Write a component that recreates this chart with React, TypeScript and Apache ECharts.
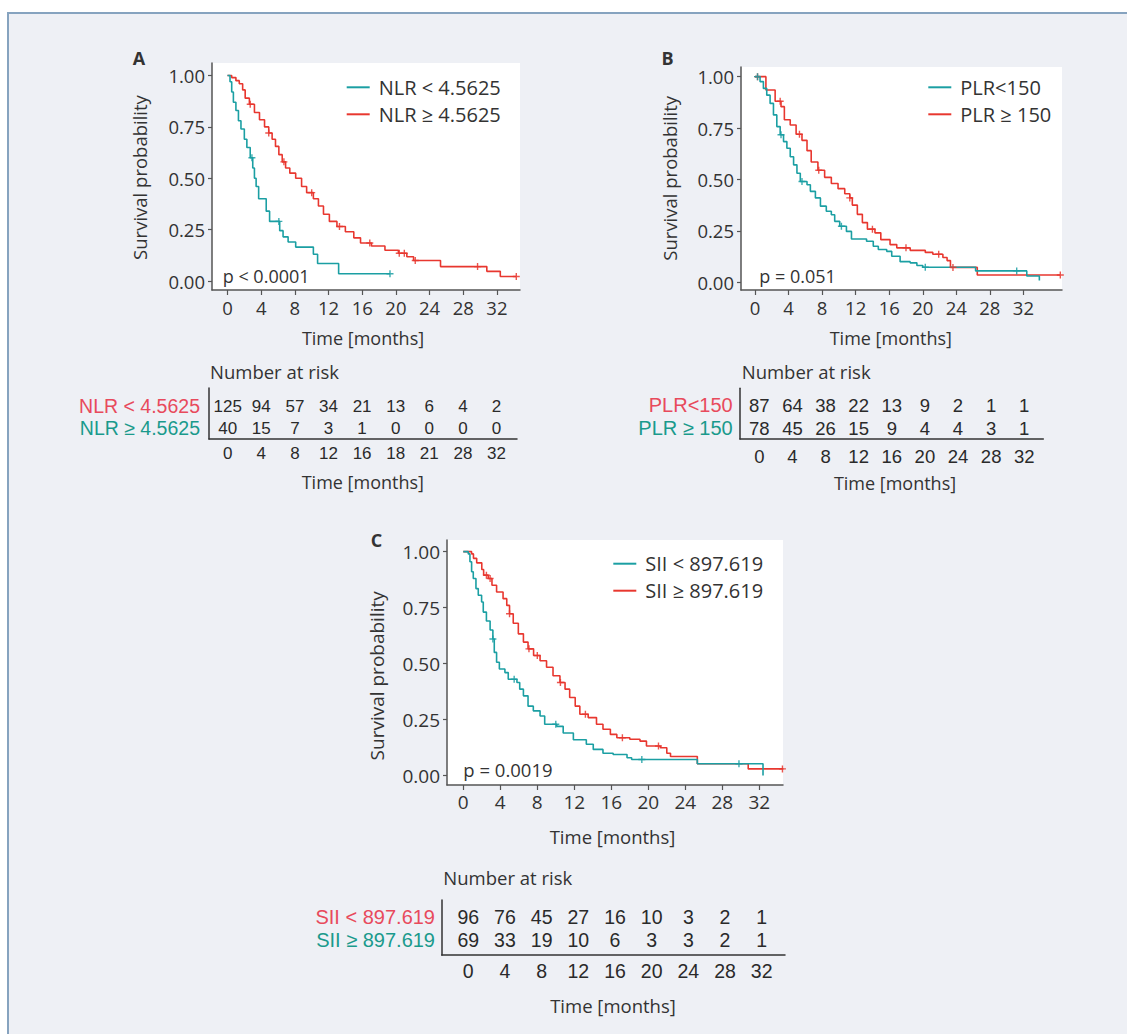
import React, { useEffect, useRef } from "react";
import * as echarts from "echarts";

// ---------- colours & fonts ----------
const TEAL = "#1b9fa3";
const RED = "#e8372f";
const LBL_RED = "#e84a5c";
const LBL_TEAL = "#1a9a8c";
const TXT = "#333333";
const AXIS = "#555555";
const FONT = "'Open Sans', 'Noto Sans', sans-serif";
const NUMFONT = "'Liberation Sans', Arial, sans-serif";

// ---------- Panel A: NLR ----------
const aLowName = "NLR < 4.5625";
const aHighName = "NLR \u2265 4.5625";
const aLowTimes = [0, 0.3, 0.5, 0.7, 1.0, 1.3, 1.6, 2.0, 2.3, 2.7, 3.0, 3.2, 3.4, 3.7, 4.6, 5.0, 6.2, 6.6, 7.2, 8.1, 10.2, 10.7, 13.2, 19.3];
const aLowSurv = [1, 0.97, 0.92, 0.87, 0.83, 0.78, 0.74, 0.69, 0.65, 0.6, 0.55, 0.5, 0.46, 0.4, 0.34, 0.29, 0.245, 0.215, 0.19, 0.165, 0.13, 0.085, 0.035, 0.035];
const aLowCensor = [2.9, 6.1, 19.3];
const aHighTimes = [0, 0.5, 1.0, 1.4, 1.8, 2.1, 2.6, 3.2, 3.8, 4.4, 4.9, 5.3, 5.7, 6.1, 6.5, 6.9, 7.4, 8.1, 8.8, 9.4, 10.2, 10.8, 11.4, 12.1, 13.0, 14.0, 15.0, 15.8, 17.1, 18.7, 20.3, 21.3, 22.1, 25.3, 30.8, 32.4, 34.3];
const aHighSurv = [1, 0.99, 0.975, 0.96, 0.93, 0.89, 0.86, 0.82, 0.785, 0.75, 0.72, 0.69, 0.655, 0.615, 0.58, 0.55, 0.525, 0.5, 0.46, 0.43, 0.4, 0.365, 0.325, 0.29, 0.265, 0.24, 0.21, 0.185, 0.17, 0.15, 0.135, 0.118, 0.1, 0.07, 0.047, 0.022, 0.022];
const aHighCensor = [2.7, 4.9, 6.7, 10.0, 13.3, 16.9, 20.4, 21.0, 22.3, 29.7, 34.3];
const aRowLabel1 = "NLR < 4.5625";
const aRowLabel2 = "NLR \u2265 4.5625";
const aRiskLabels = ["0", "4", "8", "12", "16", "18", "21", "28", "32"];
const aRiskRow1 = [125, 94, 57, 34, 21, 13, 6, 4, 2];
const aRiskRow2 = [40, 15, 7, 3, 1, 0, 0, 0, 0];

// ---------- Panel B: PLR ----------
const bLowName = "PLR<150";
const bHighName = "PLR \u2265 150";
const bLowTimes = [0, 0.6, 1.0, 1.4, 1.8, 2.2, 2.6, 3.0, 3.4, 3.8, 4.2, 4.6, 5.0, 5.4, 6.2, 6.6, 7.2, 7.8, 8.5, 9.1, 9.5, 10.1, 10.9, 11.5, 13.3, 14.1, 14.7, 15.7, 16.3, 17.3, 18.5, 19.3, 20.0, 26.3, 32.4, 33.9];
const bLowSurv = [1, 0.976, 0.943, 0.91, 0.87, 0.814, 0.757, 0.717, 0.684, 0.652, 0.61, 0.571, 0.53, 0.49, 0.474, 0.442, 0.41, 0.37, 0.345, 0.328, 0.296, 0.272, 0.247, 0.21, 0.199, 0.175, 0.159, 0.15, 0.126, 0.1, 0.094, 0.081, 0.073, 0.055, 0.03, 0.008];
const bLowCensor = [0.3, 3.1, 5.6, 10.3, 20.3, 31.2];
const bHighTimes = [0, 1.3, 2.4, 3.1, 3.5, 4.2, 4.9, 5.6, 6.2, 6.7, 7.5, 8.3, 9.1, 9.9, 10.7, 11.3, 11.6, 12.2, 12.8, 13.4, 14.3, 15.0, 16.1, 16.9, 18.5, 20.3, 21.2, 22.4, 22.9, 23.3, 26.5, 36.4];
const bHighSurv = [1, 0.935, 0.88, 0.854, 0.79, 0.765, 0.72, 0.69, 0.64, 0.585, 0.545, 0.51, 0.48, 0.455, 0.43, 0.41, 0.375, 0.33, 0.29, 0.258, 0.24, 0.207, 0.183, 0.167, 0.155, 0.145, 0.136, 0.12, 0.105, 0.072, 0.035, 0.035];
const bHighCensor = [0.3, 3.0, 5.3, 7.6, 11.3, 14.0, 18.0, 21.9, 23.6, 36.4];
const bRowLabel1 = "PLR<150";
const bRowLabel2 = "PLR \u2265 150";
const bRiskLabels = ["0", "4", "8", "12", "16", "20", "24", "28", "32"];
const bRiskRow1 = [87, 64, 38, 22, 13, 9, 2, 1, 1];
const bRiskRow2 = [78, 45, 26, 15, 9, 4, 4, 3, 1];

// ---------- Panel C: SII ----------
const cLowName = "SII < 897.619";
const cHighName = "SII \u2265 897.619";
const cLowTimes = [0, 0.54, 0.72, 0.9, 1.08, 1.37, 1.62, 1.98, 2.16, 2.5, 2.9, 3.2, 3.35, 3.6, 3.9, 4.5, 4.86, 5.8, 6.1, 6.5, 7.0, 7.57, 8.3, 8.8, 10.1, 10.8, 11.9, 13.3, 14.05, 15.1, 16.2, 17.7, 18.2, 25.3, 32.4];
const cLowSurv = [1, 0.99, 0.955, 0.91, 0.88, 0.835, 0.805, 0.775, 0.73, 0.69, 0.65, 0.61, 0.55, 0.506, 0.476, 0.46, 0.43, 0.416, 0.386, 0.356, 0.31, 0.289, 0.266, 0.229, 0.22, 0.19, 0.16, 0.14, 0.117, 0.1, 0.094, 0.08, 0.072, 0.053, 0.0];
const cLowCensor = [3.2, 5.5, 10.0, 19.3, 29.8];
const cHighTimes = [0, 0.9, 1.1, 1.45, 2.0, 2.2, 2.7, 3.1, 3.6, 4.3, 4.7, 5.0, 5.4, 5.95, 6.5, 7.0, 7.6, 8.3, 9.0, 9.7, 10.45, 11.0, 11.5, 12.1, 12.6, 13.5, 14.4, 15.1, 15.9, 16.6, 18.0, 19.1, 19.8, 21.3, 22.0, 22.4, 25.3, 30.8, 34.6];
const cHighSurv = [1, 0.99, 0.97, 0.95, 0.92, 0.895, 0.88, 0.85, 0.82, 0.79, 0.76, 0.723, 0.68, 0.633, 0.596, 0.566, 0.536, 0.513, 0.484, 0.446, 0.416, 0.386, 0.349, 0.31, 0.274, 0.259, 0.229, 0.207, 0.184, 0.169, 0.162, 0.154, 0.132, 0.124, 0.1, 0.085, 0.053, 0.03, 0.03];
const cHighCensor = [2.5, 2.9, 5.0, 7.1, 8.0, 10.5, 13.2, 17.2, 21.1, 34.5];
const cRowLabel1 = "SII < 897.619";
const cRowLabel2 = "SII \u2265 897.619";
const cRiskLabels = ["0", "4", "8", "12", "16", "20", "24", "28", "32"];
const cRiskRow1 = [96, 76, 45, 27, 16, 10, 3, 2, 1];
const cRiskRow2 = [69, 33, 19, 10, 6, 3, 3, 2, 1];

const riskTimes = [0, 4, 8, 12, 16, 20, 24, 28, 32];
const xTicks = [0, 4, 8, 12, 16, 20, 24, 28, 32];
const yTicks = [0, 0.25, 0.5, 0.75, 1];

const PLUS = "path://M4,0H6V4H10V6H6V10H4V6H0V4H4Z";

const pairs = (t: number[], s: number[]) => t.map((x, i) => [x, s[i]]);
const survAt = (t: number[], s: number[], x: number) => {
  let v = s[0];
  for (let i = 0; i < t.length; i++) if (t[i] <= x + 1e-9) v = s[i];
  return v;
};

type Panel = {
  low: { name: string; t: number[]; s: number[]; c: number[] };
  high: { name: string; t: number[]; s: number[]; c: number[] };
  plot: { left: number; top: number; width: number; height: number; xMin: number; xMax: number; yMin: number; yMax: number; font: number };
  table: { left: number; top: number; width: number; height: number; xMin: number; xMax: number; yMin: number; yMax: number; numFont: number; rowMargin: number; xMargin: number; rowFont: number };
  rowLabels: string[];
  riskLabels: string[];
  row1: number[];
  row2: number[];
  legend: { left: number; top: number };
};

const panels: Panel[] = [
  {
    low: { name: aLowName, t: aLowTimes, s: aLowSurv, c: aLowCensor },
    high: { name: aHighName, t: aHighTimes, s: aHighSurv, c: aHighCensor },
    plot: { left: 212, top: 63, width: 308, height: 227, xMin: -1.84, xMax: 34.74, yMin: -0.0438, yMax: 1.061, font: 18.5 },
    table: { left: 209, top: 388, width: 308, height: 51, xMin: -2.226, xMax: 34.44, yMin: -0.486, yMax: 1.832, numFont: 17, rowMargin: 9, xMargin: 6, rowFont: 19.5 },
    rowLabels: [aRowLabel1, aRowLabel2],
    riskLabels: aRiskLabels,
    row1: aRiskRow1,
    row2: aRiskRow2,
    legend: { left: 346.7, top: 77.3 },
  },
  {
    low: { name: bLowName, t: bLowTimes, s: bLowSurv, c: bLowCensor },
    high: { name: bHighName, t: bHighTimes, s: bHighSurv, c: bHighCensor },
    plot: { left: 741, top: 67, width: 321, height: 223, xMin: -1.67, xMax: 36.6, yMin: -0.038, yMax: 1.047, font: 18.5 },
    table: { left: 740, top: 388.3, width: 303.3, height: 50.7, xMin: -2.33, xMax: 34.3, yMin: -0.459, yMax: 1.717, numFont: 18.5, rowMargin: 7.3, xMargin: 8, rowFont: 20 },
    rowLabels: [bRowLabel1, bRowLabel2],
    riskLabels: bRiskLabels,
    row1: bRiskRow1,
    row2: bRiskRow2,
    legend: { left: 928.3, top: 77.3 },
  },
  {
    low: { name: cLowName, t: cLowTimes, s: cLowSurv, c: cLowCensor },
    high: { name: cHighName, t: cHighTimes, s: cHighSurv, c: cHighCensor },
    plot: { left: 447, top: 540, width: 336, height: 245, xMin: -1.76, xMax: 34.56, yMin: -0.042, yMax: 1.052, font: 19 },
    table: { left: 441.7, top: 900, width: 343.3, height: 55, xMin: -2.9, xMax: 34.54, yMin: -0.644, yMax: 1.717, numFont: 19.5, rowMargin: 6.7, xMargin: 5.5, rowFont: 20 },
    rowLabels: [cRowLabel1, cRowLabel2],
    riskLabels: cRiskLabels,
    row1: cRiskRow1,
    row2: cRiskRow2,
    legend: { left: 613.3, top: 553.7 },
  },
];

function buildOption() {
  const grid: any[] = [];
  const xAxis: any[] = [];
  const yAxis: any[] = [];
  const series: any[] = [];
  const legend: any[] = [];

  panels.forEach((p) => {
    const gp = grid.length;
    grid.push({ left: p.plot.left, top: p.plot.top, width: p.plot.width, height: p.plot.height, show: true, backgroundColor: "#ffffff", borderWidth: 0, containLabel: false });
    xAxis.push({
      type: "value", gridIndex: gp, min: p.plot.xMin, max: p.plot.xMax,
      axisLine: { show: true, onZero: false, lineStyle: { color: AXIS, width: 1.5 } },
      axisTick: { show: true, length: 5, lineStyle: { color: AXIS, width: 1.2 }, customValues: xTicks },
      axisLabel: { show: true, customValues: xTicks, margin: 7.5, fontSize: p.plot.font, fontFamily: FONT, color: TXT, formatter: (v: number) => String(Math.round(v)) },
      splitLine: { show: false },
    });
    yAxis.push({
      type: "value", gridIndex: gp, min: p.plot.yMin, max: p.plot.yMax,
      axisLine: { show: true, onZero: false, lineStyle: { color: AXIS, width: 1.5 } },
      axisTick: { show: true, length: 4, lineStyle: { color: AXIS, width: 1.2 }, customValues: yTicks },
      axisLabel: { show: true, customValues: yTicks, margin: 7, fontSize: p.plot.font, fontFamily: FONT, color: TXT, formatter: (v: number) => v.toFixed(2) },
      splitLine: { show: false },
    });
    [p.high, p.low].forEach((g) => {
      const col = g === p.low ? TEAL : RED;
      series.push({
        type: "line", name: g.name, xAxisIndex: gp, yAxisIndex: gp, data: pairs(g.t, g.s), step: "end",
        showSymbol: false, symbol: "none", lineStyle: { color: col, width: 1.6 }, itemStyle: { color: col }, silent: true, z: 3,
      });
      series.push({
        type: "scatter", name: g.name + " (censored)", xAxisIndex: gp, yAxisIndex: gp,
        data: g.c.map((c) => [c, survAt(g.t, g.s, c)]), symbol: PLUS, symbolSize: 7, itemStyle: { color: col, opacity: 0.85 }, silent: true, z: 4,
      });
    });
    legend.push({
      orient: "vertical", left: p.legend.left, top: p.legend.top, padding: 0, itemWidth: 23, itemHeight: 2, itemGap: 7, icon: "rect",
      selectedMode: false, data: [p.low.name, p.high.name],
      textStyle: { fontSize: 20, fontFamily: FONT, color: TXT, padding: [0, 0, 0, 4], lineHeight: 18 },
    });

    const gt = grid.length;
    grid.push({ left: p.table.left, top: p.table.top, width: p.table.width, height: p.table.height, show: false });
    xAxis.push({
      type: "value", gridIndex: gt, min: p.table.xMin, max: p.table.xMax,
      axisLine: { show: true, onZero: false, lineStyle: { color: "#333", width: 1.5 } },
      axisTick: { show: false },
      axisLabel: {
        show: true, customValues: riskTimes, margin: p.table.xMargin, fontSize: p.table.numFont, fontFamily: NUMFONT, color: "#2a2a2a", fontWeight: "normal",
        formatter: (v: number) => { const i = riskTimes.indexOf(Math.round(v)); return i >= 0 ? p.riskLabels[i] : ""; },
      },
      splitLine: { show: false },
    });
    yAxis.push({
      type: "value", gridIndex: gt, min: p.table.yMin, max: p.table.yMax,
      axisLine: { show: true, onZero: false, lineStyle: { color: "#333", width: 1.5 } },
      axisTick: { show: false },
      axisLabel: {
        show: true, customValues: [0, 1], margin: p.table.rowMargin,
        formatter: (v: number) => (Math.abs(v - 1) < 1e-6 ? "{r|" + p.rowLabels[0] + "}" : Math.abs(v) < 1e-6 ? "{t|" + p.rowLabels[1] + "}" : ""),
        rich: {
          r: { color: LBL_RED, fontSize: p.table.rowFont, fontFamily: NUMFONT, lineHeight: p.table.rowFont },
          t: { color: LBL_TEAL, fontSize: p.table.rowFont, fontFamily: NUMFONT, lineHeight: p.table.rowFont },
        },
      },
      splitLine: { show: false },
    });
    const riskData = riskTimes.map((t, i) => [t, 1, p.row1[i]]).concat(riskTimes.map((t, i) => [t, 0, p.row2[i]]));
    series.push({
      type: "scatter", name: "risk" + gt, xAxisIndex: gt, yAxisIndex: gt, data: riskData, symbolSize: 0,
      itemStyle: { color: "#2a2a2a", opacity: 1 }, silent: true,
      label: { show: true, position: "inside", opacity: 1, formatter: (q: any) => String(q.value[2]), fontSize: p.table.numFont, fontFamily: NUMFONT, color: "#2a2a2a", textBorderWidth: 0, lineHeight: p.table.numFont },
    });
  });

  const txt = (text: string, x: number, y: number, size: number, align: string, extra: any = {}) => ({
    type: "text", x, y, z: 100, ...extra,
    style: { text, fontSize: size, fontFamily: FONT, fill: TXT, align, textAlign: align, verticalAlign: "middle", textVerticalAlign: "middle", fontWeight: extra.bold ? "bold" : "normal" },
  });

  const graphic: any[] = [
    { type: "rect", z: -100, shape: { x: 8, y: 13, width: 1200, height: 1100 }, style: { fill: "#eef0f5", stroke: "#86a3bf", lineWidth: 2 } },
    txt("A", 139, 58.3, 18, "center", { bold: true }),
    txt("B", 667.5, 58.3, 18, "center", { bold: true }),
    txt("C", 376.5, 540, 18, "center", { bold: true }),
    txt("Survival probability", 139, 177.5, 18.5, "center", { rotation: Math.PI / 2 }),
    txt("Survival probability", 669, 178.3, 18.5, "center", { rotation: Math.PI / 2 }),
    txt("Survival probability", 376.5, 675.8, 19, "center", { rotation: Math.PI / 2 }),
    txt("Time [months]", 363, 338, 18, "center"),
    txt("Time [months]", 890.8, 338.3, 18, "center"),
    txt("Time [months]", 612.5, 836.7, 18.5, "center"),
    txt("Number at risk", 210, 371.7, 18.5, "left"),
    txt("Number at risk", 741.7, 371.7, 18.5, "left"),
    txt("Number at risk", 443.3, 877.3, 18.5, "left"),
    txt("Time [months]", 362.8, 482.3, 18, "center"),
    txt("Time [months]", 895, 483.3, 18, "center"),
    txt("Time [months]", 613, 1005, 18.5, "center"),
    txt("p < 0.0001", 222.7, 275.7, 18, "left"),
    txt("p = 0.051", 759.3, 276, 18, "left"),
    txt("p = 0.0019", 463.3, 769.3, 18.5, "left"),
  ];

  return { animation: false, grid, xAxis, yAxis, series, legend, graphic };
}

export default function App() {
  const ref = useRef<HTMLDivElement>(null);
  useEffect(() => {
    if (!ref.current) return;
    const chart = echarts.init(ref.current, undefined, { renderer: "svg" });
    chart.setOption(buildOption() as any);
    return () => chart.dispose();
  }, []);
  return <div ref={ref} style={{ position: "absolute", left: 0, top: 0, width: 1127, height: 1034 }} />;
}
